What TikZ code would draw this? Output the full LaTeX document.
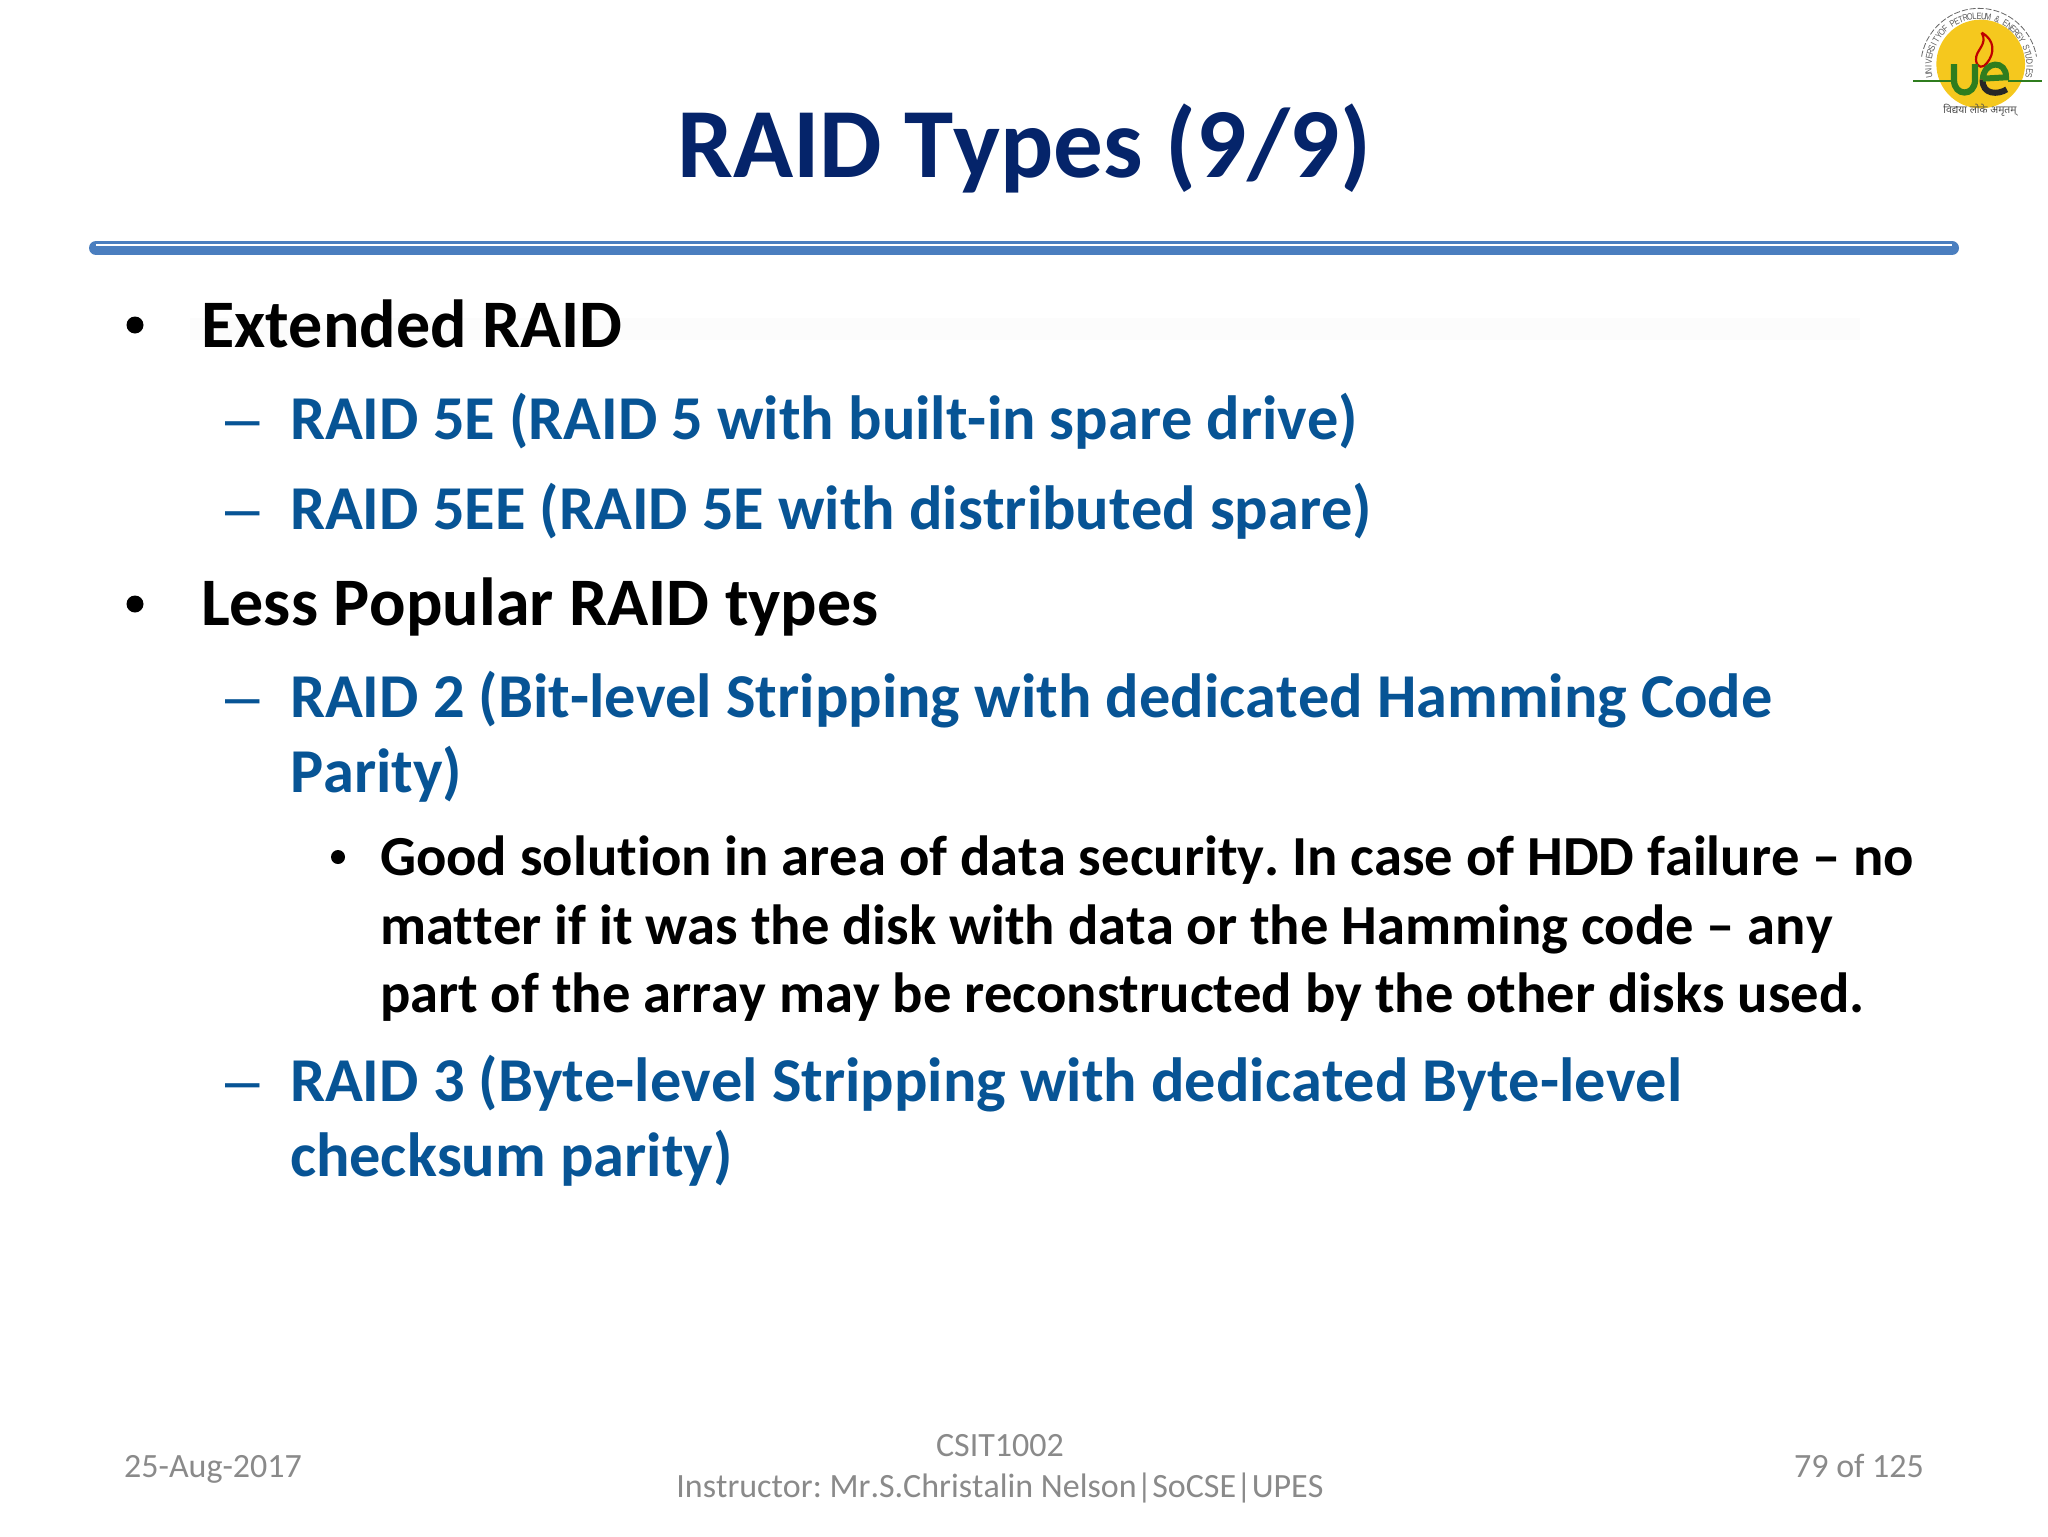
\documentclass[tikz,border=0pt]{standalone}
\usepackage{fontspec}
\setmainfont[Ligatures=CommonOff,Kerning=Off]{Carlito}
\newfontfamily\logofont{Liberation Sans}
\newfontfamily\devafont[Script=Devanagari]{Noto Sans}
\definecolor{titleblue}{HTML}{05246A}
\definecolor{bodyblue}{HTML}{075495}
\definecolor{rulerblue}{HTML}{4A7EBF}
\definecolor{footgray}{HTML}{8A8A8A}
\definecolor{logogold}{HTML}{F5C81E}
\definecolor{logogreen}{HTML}{2F7D1E}
\tikzset{
  txt/.style={anchor=base west,inner sep=0pt,outer sep=0pt},
  titletext/.style={anchor=base,inner sep=0pt,font=\frenchspacing\fontsize{49.6}{50}\selectfont\bfseries,text=titleblue},
  lvlone/.style={txt,font=\frenchspacing\fontsize{34}{34}\selectfont\bfseries,text=black},
  lvltwo/.style={txt,font=\frenchspacing\fontsize{31.2}{31.2}\selectfont\bfseries,text=bodyblue},
  lvlthree/.style={txt,font=\frenchspacing\fontsize{28.3}{28.3}\selectfont\bfseries,text=black},
  foot/.style={anchor=base,inner sep=0pt,font=\frenchspacing\fontsize{17}{17}\selectfont,text=footgray},
  dashmark/.style={anchor=base west,inner sep=0pt,font=\fontsize{31}{31}\logofont,text=bodyblue},
  arcletter/.style={inner sep=0pt,font=\fontsize{4.6}{4.6}\logofont,text=black!65},
}
\begin{document}
\begin{tikzpicture}[x=0.5pt,y=-0.5pt]
\useasboundingbox (0,0) rectangle (2048,1536);
\fill[white] (0,0) rectangle (2048,1536);
% faint shadow behind first line
\fill[black!1] (190,318) rectangle (1860,340);
% rule
\draw[rulerblue,line width=7pt,line cap=round] (96,248) -- (1952,248);
\draw[white,line width=1pt] (96,245) -- (1952,245);
% title
\node[titletext] (title) at (1024,177) {RAID Types (9/9)};
% bullets
\fill[black] (135,325) circle (8.5);
\fill[black] (135,604) circle (8.5);
\fill[black] (338,857) circle (7);
\node[lvlone] (l1) at (201,347) {Extended RAID};
\node[dashmark] (d1) at (225,439) {–};
\node[lvltwo] (l2) at (290,439) {RAID 5E (RAID 5 with built-in spare drive)};
\node[dashmark] (d2) at (225,529) {–};
\node[lvltwo] (l3) at (290,529) {RAID 5EE (RAID 5E with distributed spare)};
\node[lvlone] (l4) at (201,625) {Less Popular RAID types};
\node[dashmark] (d3) at (225,717) {–};
\node[lvltwo] (l5) at (290,717) {RAID 2 (Bit-level Stripping with dedicated Hamming Code};
\node[lvltwo] (l6) at (290,792) {Parity)};
\node[lvlthree] (l7) at (380,875) {Good solution in area of data security. In case of HDD failure – no};
\node[lvlthree] (l8) at (380,944) {matter if it was the disk with data or the Hamming code – any};
\node[lvlthree] (l9) at (380,1012) {part of the array may be reconstructed by the other disks used.};
\node[dashmark] (d4) at (225,1101) {–};
\node[lvltwo] (l10) at (290,1101) {RAID 3 (Byte-level Stripping with dedicated Byte-level};
\node[lvltwo] (l11) at (290,1176) {checksum parity)};
% footer
\node[foot] (f1) at (213,1477) {25-Aug-2017};
\node[foot] (f2) at (1000,1456) {CSIT1002};
\node[foot] (f3) at (1000,1497) {Instructor: Mr.S.Christalin Nelson|SoCSE|UPES};
\node[foot] (f4) at (1859,1477) {79 of 125};
% logo
\begin{scope}[shift={(1880,0)},x=0.16667pt,y=-0.16667pt]
\fill[logogold] (302,192) circle (133);
\draw[black!60,line width=0.4pt,dash pattern=on 3pt off 1pt] (297,200) ++(-170:175) arc[start angle=-170,end angle=-10,radius=175];
\foreach \ch [count=\i] in {U,N,I,V,E,R,S,I,T,Y,O,F,{ },P,E,T,R,O,L,E,U,M,{ },\&,{ },E,N,E,R,G,Y,{ },S,T,U,D,I,E,S}{
  \pgfmathsetmacro{\ang}{190-(\i-1)*(200/38)}
  \pgfmathsetmacro{\rot}{\ang-90}
  \node[arcletter,rotate=\rot] (arc\i) at ({297+152*cos(\ang)},{200-152*sin(\ang)}) {\scalebox{0.8}[1]{\ch}};
}
\draw[logogreen,line width=0.9pt] (100,243) -- (212,243);
\draw[logogreen,line width=0.9pt] (385,243) -- (485,243);
\draw[red!75!black,line width=1.1pt] (305,98) .. controls (345,120) and (345,160) .. (320,190) .. controls (310,205) and (290,205) .. (288,180) .. controls (285,150) and (325,135) .. (305,98);
\draw[logogreen,line width=3.1pt] (222,192) -- (222,240) .. controls (222,290) and (285,290) .. (285,240) -- (285,192);
\draw[black!85,line width=3pt] (308,238) .. controls (305,285) and (355,285) .. (380,268);
\draw[logogreen,line width=3pt] (308,238) .. controls (312,180) and (380,180) .. (378,232) -- (308,236);
\node[inner sep=0pt,text=black!70] (motto) at (300,330) {\fontsize{5.2}{5.2}\devafont विद्यया लोके अमृतम्};
\end{scope}
\end{tikzpicture}
\end{document}
